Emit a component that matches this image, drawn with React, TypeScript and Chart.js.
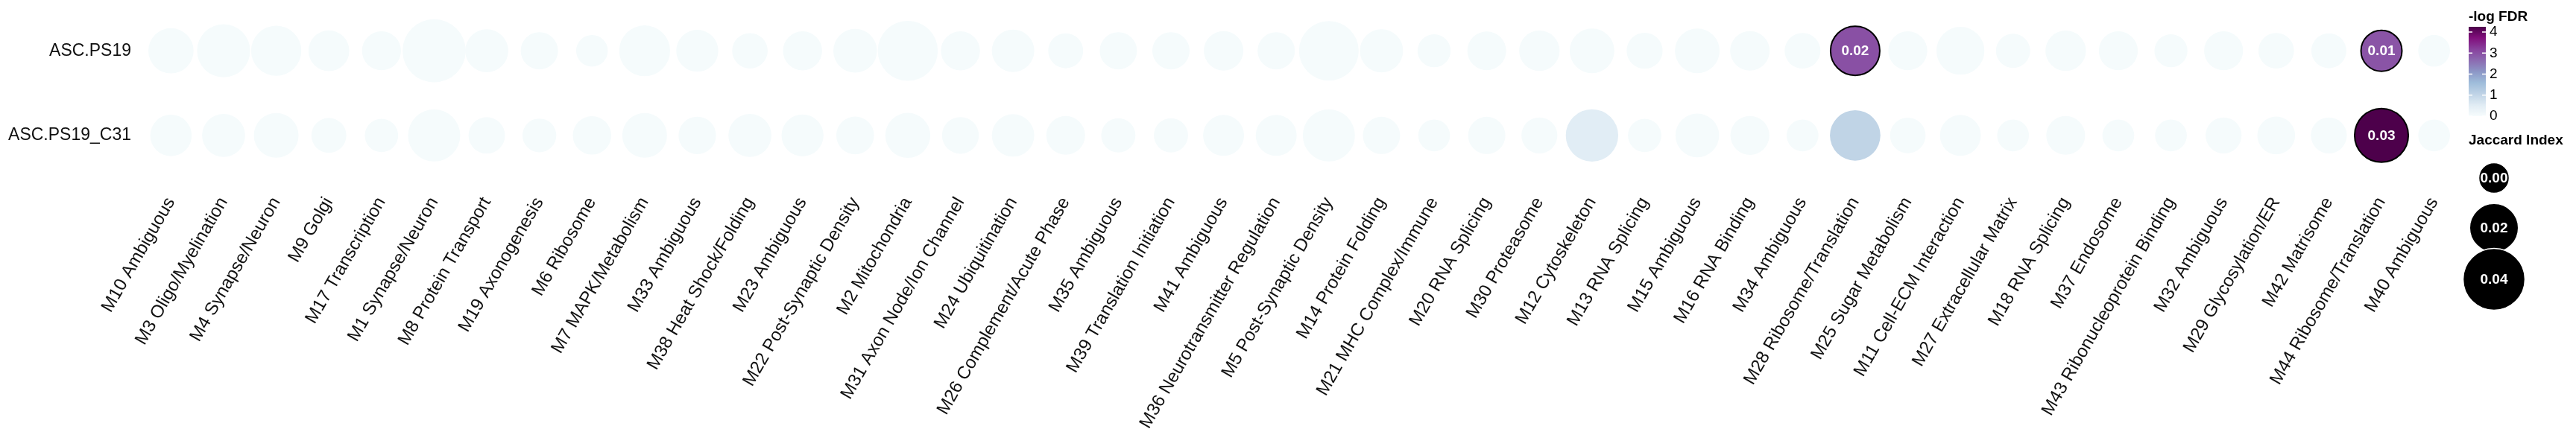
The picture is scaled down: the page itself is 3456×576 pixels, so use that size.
import { useEffect, useRef } from "react"
import { Chart, registerables } from "chart.js"

Chart.register(...registerables)

const modules = [
  "M10 Ambiguous", "M3 Oligo/Myelination", "M4 Synapse/Neuron", "M9 Golgi", "M17 Transcription",
  "M1 Synapse/Neuron", "M8 Protein Transport", "M19 Axonogenesis", "M6 Ribosome", "M7 MAPK/Metabolism",
  "M33 Ambiguous", "M38 Heat Shock/Folding", "M23 Ambiguous", "M22 Post-Synaptic Density", "M2 Mitochondria",
  "M31 Axon Node/Ion Channel", "M24 Ubiquitination", "M26 Complement/Acute Phase", "M35 Ambiguous",
  "M39 Translation Initiation", "M41 Ambiguous", "M36 Neurotransmitter Regulation", "M5 Post-Synaptic Density",
  "M14 Protein Folding", "M21 MHC Complex/Immune", "M20 RNA Splicing", "M30 Proteasome", "M12 Cytoskeleton",
  "M13 RNA Splicing", "M15 Ambiguous", "M16 RNA Binding", "M34 Ambiguous", "M28 Ribosome/Translation",
  "M25 Sugar Metabolism", "M11 Cell-ECM Interaction", "M27 Extracellular Matrix", "M18 RNA Splicing",
  "M37 Endosome", "M43 Ribonucleoprotein Binding", "M32 Ambiguous", "M29 Glycosylation/ER", "M42 Matrisome",
  "M44 Ribosome/Translation", "M40 Ambiguous",
]

const samples = ["ASC.PS19", "ASC.PS19_C31"]

const jaccardPS19 = [
  0.0154, 0.0261, 0.0219, 0.0101, 0.0081, 0.0422, 0.0127, 0.0063, 0.0010, 0.0229,
  0.0115, 0.0045, 0.0082, 0.0135, 0.0370, 0.0082, 0.0120, 0.0040, 0.0063, 0.0063,
  0.0087, 0.0063, 0.0363, 0.0129, 0.0022, 0.0079, 0.0097, 0.0147, 0.0050, 0.0147,
  0.0087, 0.0048, 0.0206, 0.0081, 0.0189, 0.0033, 0.0097, 0.0081, 0.0022, 0.0081,
  0.0046, 0.0040, 0.0103, 0.0011,
]

const jaccardC31 = [
  0.0109, 0.0127, 0.0147, 0.0040, 0.0025, 0.0247, 0.0055, 0.0029, 0.0075, 0.0147,
  0.0065, 0.0127, 0.0115, 0.0068, 0.0151, 0.0058, 0.0120, 0.0079, 0.0033, 0.0033,
  0.0103, 0.0103, 0.0247, 0.0063, 0.0011, 0.0063, 0.0050, 0.0251, 0.0025, 0.0135,
  0.0081, 0.0011, 0.0223, 0.0046, 0.0103, 0.0011, 0.0079, 0.0011, 0.0011, 0.0050,
  0.0068, 0.0050, 0.0270, 0.0011,
]

const logFdrPS19 = [
  0.04, 0.04, 0.04, 0.04, 0.04, 0.04, 0.04, 0.04, 0.04, 0.04,
  0.04, 0.04, 0.04, 0.04, 0.04, 0.04, 0.04, 0.04, 0.04, 0.04,
  0.04, 0.04, 0.04, 0.04, 0.04, 0.04, 0.04, 0.04, 0.04, 0.04,
  0.04, 0.04, 3.0, 0.04, 0.04, 0.04, 0.04, 0.04, 0.04, 0.04,
  0.04, 0.04, 2.95, 0.04,
]

const logFdrC31 = [
  0.04, 0.04, 0.04, 0.04, 0.04, 0.04, 0.04, 0.04, 0.04, 0.04,
  0.04, 0.04, 0.04, 0.04, 0.04, 0.04, 0.04, 0.04, 0.04, 0.04,
  0.04, 0.04, 0.04, 0.04, 0.04, 0.04, 0.04, 0.5, 0.04, 0.04,
  0.04, 0.04, 1.05, 0.04, 0.04, 0.04, 0.04, 0.04, 0.04, 0.04,
  0.04, 0.04, 4.25, 0.04,
]

const fdrTicks = [0, 1, 2, 3, 4]
const jaccardBreaks = [0, 0.02, 0.04]

const buPu = ["#f7fcfd", "#e0ecf4", "#bfd3e6", "#9ebcda", "#8c96c6", "#8c6bb1", "#88419d", "#810f7c", "#4d004b"]
const fdrMax = 4.25
const sigCutoff = 1.3
const font = "'Liberation Sans', Arial, Helvetica, sans-serif"

function hexToRgb(h: string) {
  const n = parseInt(h.slice(1), 16)
  return [(n >> 16) & 255, (n >> 8) & 255, n & 255]
}

function fdrColor(v: number) {
  const t = Math.min(Math.max(v / fdrMax, 0), 1) * (buPu.length - 1)
  const i = Math.min(Math.floor(t), buPu.length - 2)
  const f = t - i
  const a = hexToRgb(buPu[i])
  const b = hexToRgb(buPu[i + 1])
  const c = a.map((x, k) => Math.round(x + (b[k] - x) * f))
  return `rgb(${c[0]}, ${c[1]}, ${c[2]})`
}

// area-proportional size scale
function bubbleRadius(j: number) {
  return Math.sqrt(20.5 * 20.5 + 32550 * j)
}

const overlayPlugin = {
  id: "overlay",
  afterDatasetsDraw(chart: any) {
    const ctx = chart.ctx as CanvasRenderingContext2D
    ctx.save()

    // labels inside significant bubbles
    ctx.fillStyle = "#ffffff"
    ctx.font = `bold 19px ${font}`
    ctx.textAlign = "center"
    ctx.textBaseline = "middle"
    chart.data.datasets.forEach((ds: any, di: number) => {
      const meta = chart.getDatasetMeta(di)
      meta.data.forEach((el: any, i: number) => {
        const p = ds.data[i]
        if (p.fdr < sigCutoff) return
        ctx.fillText(p.j.toFixed(2), el.x, el.y + 1)
      })
    })

    // colour bar legend
    const left = 3312
    const barW = 23
    const top = 36
    const bottom = 156
    ctx.fillStyle = "#000"
    ctx.textAlign = "left"
    ctx.textBaseline = "alphabetic"
    ctx.font = `bold 19px ${font}`
    ctx.fillText("-log FDR", left, 28)

    const grad = ctx.createLinearGradient(0, bottom, 0, top)
    buPu.forEach((c, i) => grad.addColorStop(i / (buPu.length - 1), c))
    ctx.fillStyle = grad
    ctx.fillRect(left, top, barW, bottom - top)

    ctx.font = `19px ${font}`
    ctx.textBaseline = "middle"
    fdrTicks.forEach((v) => {
      const y = bottom - (v / fdrMax) * (bottom - top)
      ctx.strokeStyle = "#ffffff"
      ctx.lineWidth = 1.5
      ctx.beginPath()
      ctx.moveTo(left, y)
      ctx.lineTo(left + 5, y)
      ctx.moveTo(left + barW - 5, y)
      ctx.lineTo(left + barW, y)
      ctx.stroke()
      ctx.fillStyle = "#000"
      ctx.fillText(String(v), left + barW + 5, y)
    })

    // size legend
    ctx.textBaseline = "alphabetic"
    ctx.font = `bold 19px ${font}`
    ctx.fillText("Jaccard Index", left, 194)
    const keyY = [239, 306, 375]
    jaccardBreaks.forEach((j, i) => {
      const r = bubbleRadius(j)
      ctx.beginPath()
      ctx.arc(3346, keyY[i], r, 0, Math.PI * 2)
      ctx.fillStyle = "#000"
      ctx.fill()
      ctx.strokeStyle = "#ffffff"
      ctx.lineWidth = 1.5
      ctx.stroke()
      ctx.fillStyle = "#ffffff"
      ctx.font = `bold 19px ${font}`
      ctx.textAlign = "center"
      ctx.textBaseline = "middle"
      ctx.fillText(j.toFixed(2), 3346, keyY[i] + 1)
      ctx.textAlign = "left"
      ctx.textBaseline = "alphabetic"
    })

    ctx.restore()
  },
}

export default function App() {
  const chartRef = useRef<HTMLCanvasElement>(null)
  const chartInstance = useRef<Chart | null>(null)

  useEffect(() => {
    if (!chartRef.current) return
    if (chartInstance.current) chartInstance.current.destroy()
    const ctx = chartRef.current.getContext("2d")
    if (!ctx) return

    const rows = [
      { j: jaccardPS19, fdr: logFdrPS19 },
      { j: jaccardC31, fdr: logFdrC31 },
    ]

    const datasets = rows.map((row, ri) => {
      const points = modules.map((_, i) => ({
        x: i,
        y: ri,
        r: bubbleRadius(row.j[i]),
        j: row.j[i],
        fdr: row.fdr[i],
      }))
      return {
        label: samples[ri],
        data: points,
        backgroundColor: points.map((p) => fdrColor(p.fdr)),
        borderColor: points.map((p) => (p.fdr >= sigCutoff ? "#000000" : "rgba(0,0,0,0)")),
        borderWidth: points.map((p) => (p.fdr >= sigCutoff ? 2 : 0)),
        hoverRadius: 0,
        clip: false,
      }
    })

    chartInstance.current = new Chart(ctx, {
      type: "bubble",
      data: { datasets } as any,
      options: {
        animation: false,
        responsive: true,
        maintainAspectRatio: false,
        layout: { autoPadding: false, padding: { left: 0, right: 148, top: 0, bottom: 0 } },
        plugins: {
          legend: { display: false },
          tooltip: { enabled: false },
        },
        scales: {
          x: {
            type: "linear",
            min: -0.6,
            max: modules.length - 1 + 0.6,
            grid: { display: false },
            border: { display: false },
            afterBuildTicks: (scale: any) => {
              scale.ticks = modules.map((_, i) => ({ value: i }))
            },
            afterFit: (scale: any) => {
              scale.height = 326
              scale.paddingLeft = 0
              scale.paddingRight = 0
              scale.paddingTop = 0
              scale.paddingBottom = 0
            },
            ticks: {
              autoSkip: false,
              minRotation: 60,
              maxRotation: 60,
              padding: 2,
              color: "#111111",
              font: { family: font, size: 24 },
              callback: (value: any) => modules[Math.round(Number(value))] ?? "",
            },
          },
          y: {
            type: "linear",
            reverse: true,
            min: -0.6,
            max: samples.length - 1 + 0.6,
            grid: { display: false },
            border: { display: false },
            afterBuildTicks: (scale: any) => {
              scale.ticks = samples.map((_, i) => ({ value: i }))
            },
            afterFit: (scale: any) => {
              scale.width = 187
              scale.paddingLeft = 0
              scale.paddingRight = 0
              scale.paddingTop = 0
              scale.paddingBottom = 0
            },
            ticks: {
              padding: 3,
              color: "#111111",
              font: { family: font, size: 23 },
              callback: (value: any) => samples[Math.round(Number(value))] ?? "",
            },
          },
        },
      },
      plugins: [overlayPlugin],
    })

    return () => {
      if (chartInstance.current) {
        chartInstance.current.destroy()
        chartInstance.current = null
      }
    }
  }, [])

  return (
    <div style={{ position: "fixed", left: 0, top: 0, width: "3456px", height: "576px", background: "#fff" }}>
      <canvas ref={chartRef} />
    </div>
  )
}
